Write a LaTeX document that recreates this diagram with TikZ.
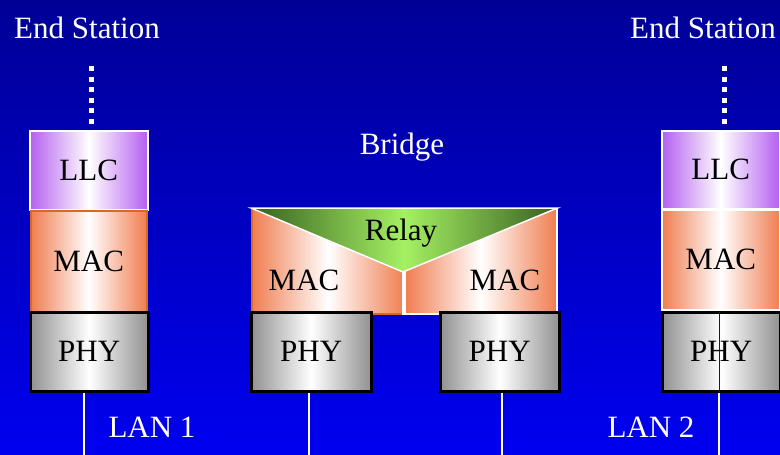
\documentclass[tikz,border=0pt]{standalone}
\usepackage{fontspec}
\setmainfont{Liberation Serif}
\definecolor{bgtop}{RGB}{0,0,150}
\definecolor{bgbot}{RGB}{0,0,240}
\definecolor{llcc}{RGB}{180,95,240}
\definecolor{macc}{RGB}{240,125,80}
\definecolor{macb}{RGB}{215,105,35}
\definecolor{phyc}{RGB}{145,145,145}
\definecolor{relayd}{RGB}{55,95,30}
\definecolor{relayl}{RGB}{165,240,100}
\begin{document}
\begin{tikzpicture}[x=1pt,y=-1pt,
  lbl/.style={font=\fontsize{31}{36}\selectfont},
  wlbl/.style={lbl,text=white,anchor=base,inner sep=0pt},
  box/.style={inner sep=0pt, anchor=north west, lbl},
  llcbox/.style={box, draw=white, line width=1.5pt, left color=llcc, right color=llcc, middle color=white},
  macbox/.style={box, line width=1.5pt, left color=macc, right color=macc, middle color=white},
  phybox/.style={box, draw=black, line width=2.5pt, left color=phyc, right color=phyc, middle color=white},
  lan/.style={draw=white, line width=1.8pt},
  dotline/.style={draw=white, line width=5pt, dash pattern=on 5pt off 5.5pt}
]
\useasboundingbox (0,0) rectangle (780,455);
\shade[top color=bgtop, bottom color=bgbot] (0,0) rectangle (780,455);

% titles
\node[wlbl] (es1) at (87,38) {End Station};
\node[wlbl] (es2) at (703,38) {End Station};
\node[wlbl] (br) at (402,154) {Bridge};
\node[wlbl] (lan1) at (152,437) {LAN 1};
\node[wlbl] (lan2) at (651,437) {LAN 2};

% left end station
\node[llcbox, minimum width=118pt, minimum height=79pt] (llc1) at (29,130) {LLC};
\node[macbox, draw=macb, minimum width=116pt, minimum height=101pt] (mac1) at (30,210) {MAC};
\node[phybox, minimum width=118pt, minimum height=79pt] (phy1) at (29,311) {PHY};

% right end station
\node[llcbox, minimum width=118pt, minimum height=78pt] (llc2) at (661,130) {LLC};
\node[macbox, draw=white, minimum width=118pt, minimum height=100pt] (mac2) at (661,209) {MAC};
\node[phybox, minimum width=118pt, minimum height=79pt] (phy2) at (661,311) {PHY};

% bridge
\node[macbox, draw=macb, minimum width=153pt, minimum height=105pt] (bmacL) at (251,208) {};
\node[macbox, draw=white, minimum width=152pt, minimum height=105pt] (bmacR) at (404,208) {};
\shadedraw[left color=relayd, right color=relayd, middle color=relayl, draw=white, line width=1.5pt]
  (bmacL.north west) -- (bmacR.north east) -- (403,272) coordinate (apex) -- cycle;
\draw[white, line width=1.5pt] (apex) -- (apex |- bmacL.south);
\node[lbl] (relay) at (401,233) {Relay};
\node[lbl] (macLt) at (304,280) {MAC};
\node[lbl] (macRt) at (505,280) {MAC};
\node[phybox, minimum width=120pt, minimum height=79pt] (bphyL) at (250,311) {PHY};
\node[phybox, minimum width=119pt, minimum height=79pt] (bphyR) at (439,311) {PHY};

% dotted links
\coordinate (d1) at (91,66);
\coordinate (d2) at (724,66);
\draw[dotline] (d1) -- ([yshift=6pt]llc1.north -| d1);
\draw[dotline] (d2) -- ([yshift=6pt]llc2.north -| d2);

% LAN links
\coordinate (b1) at (84,455);
\coordinate (b2) at (309,455);
\coordinate (b3) at (502,455);
\coordinate (b4) at (719,455);
\draw[lan] (phy1.south -| b1) -- (b1);
\draw[lan] (bphyL.south -| b2) -- (b2);
\draw[lan] (bphyR.south -| b3) -- (b3);
\draw[lan] (phy2.south -| b4) -- (b4);
\draw[blue, line width=1pt] ([yshift=-1pt]phy2.north -| b4) -- ([yshift=1pt]phy2.south -| b4);
\end{tikzpicture}
\end{document}
